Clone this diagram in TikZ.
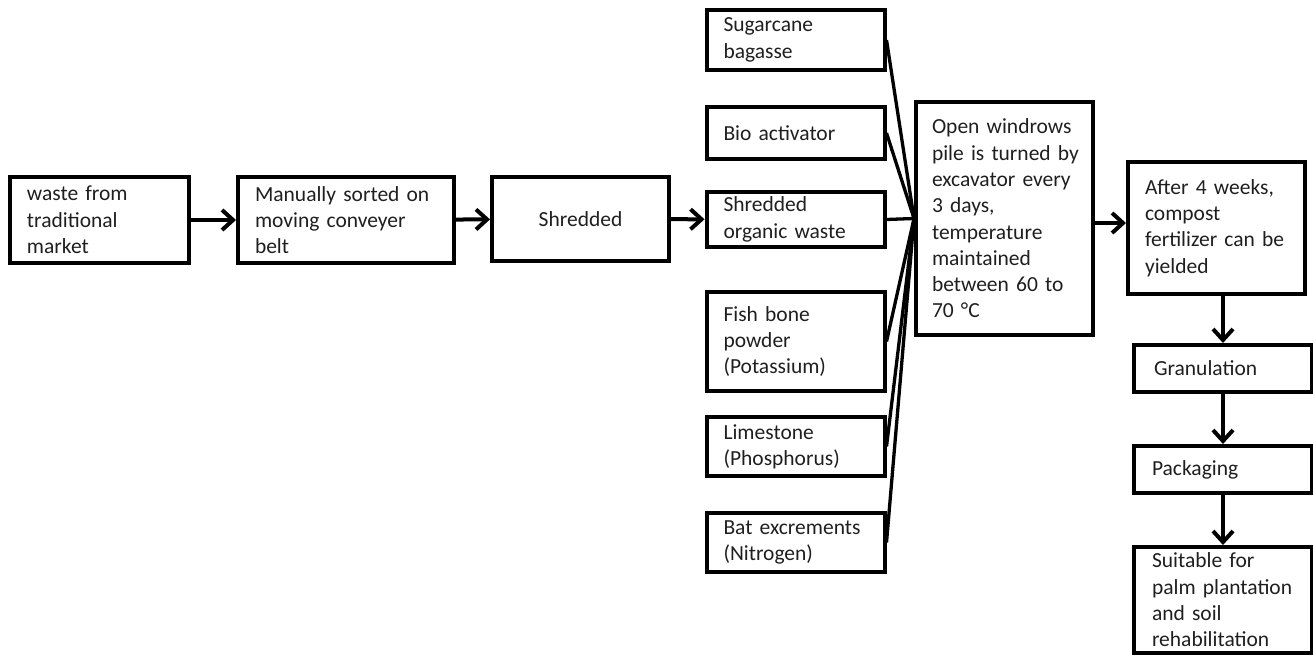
\documentclass[tikz,border=0pt]{standalone}
\usepackage{fontspec}
\setmainfont{Carlito}
\usetikzlibrary{arrows.meta}
\begin{document}
\begin{tikzpicture}[x=1pt,y=-1pt,
  font=\fontsize{21.5}{26.3}\selectfont,
  box/.style={draw, line width=4pt, inner xsep=17pt, inner ysep=0pt, align=left, text=black!88},
  arr/.style={line width=4pt, -{Straight Barb[length=11pt,width=20pt,line width=4pt]}},
  fan/.style={line width=3.3pt}]
\useasboundingbox (0,0) rectangle (1313,655);
% main chain
\node[box, minimum width=179pt, minimum height=86pt, text width=145pt] (waste) at (99.5,220) {waste from\\traditional\\market};
\node[box, minimum width=216pt, minimum height=86pt, text width=182pt] (manual) at (346,220) {Manually~sorted~on\\moving~conveyer\\belt};
\node[box, minimum width=177pt, minimum height=84pt, text width=143pt, align=center] (shred) at (580.5,219) {Shredded};
% input column
\node[box, minimum width=177pt, minimum height=60pt, text width=144pt] (sugar) at (795.5,40) {Sugarcane\\bagasse};
\node[box, minimum width=177pt, minimum height=52pt, text width=144pt] (bio) at (795.5,133) {Bio activator};
\node[box, minimum width=177pt, minimum height=55pt, text width=144pt] (organic) at (795.5,219.5) {Shredded\\organic~waste};
\node[box, minimum width=177pt, minimum height=99pt, text width=144pt] (fish) at (795.5,341.5) {Fish bone\\powder\\(Potassium)};
\node[box, minimum width=177pt, minimum height=59pt, text width=144pt] (lime) at (795.5,446.5) {Limestone\\(Phosphorus)};
\node[box, minimum width=177pt, minimum height=59pt, text width=144pt] (bat) at (795.5,542.5) {Bat~excrements\\(Nitrogen)};
% composting
\node[box, minimum width=177pt, minimum height=233pt, text width=145pt, inner xsep=16pt] (pile) at (1004.5,218.5) {Open~windrows\\pile~is~turned~by\\excavator~every\\3~days,\\temperature\\maintained\\between~60~to\\70~°C};
\node[box, minimum width=177pt, minimum height=132pt, text width=143pt] (after) at (1216.5,228) {After~4~weeks,\\compost\\fertilizer~can~be\\yielded};
\node[box, minimum width=178pt, minimum height=47pt, text width=138pt, inner xsep=20pt] (gran) at (1223,368.5) {Granulation};
\node[box, minimum width=178pt, minimum height=47pt, text width=142pt, inner xsep=18pt] (pack) at (1223,469.5) {Packaging};
\node[box, minimum width=178pt, minimum height=106pt, text width=142pt, inner xsep=18pt] (suit) at (1223,600) {Suitable~for\\palm~plantation\\and~soil\\rehabilitation};
% connectors
\draw[arr] (waste) -- (manual);
\draw[arr] (manual) -- (shred);
\draw[arr] (shred) -- (organic);
\coordinate (hub) at (pile.west);
\foreach \n in {sugar,bio,organic,fish,lime,bat}
  \draw[fan] (\n.east) -- (hub);
\draw[arr] (pile.east |- 0,223) -- (after.west |- 0,223);
\draw[arr] (after.south -| gran.north) -- (gran.north);
\draw[arr] (gran) -- (pack);
\draw[arr] (pack) -- (suit);
\end{tikzpicture}
\end{document}
